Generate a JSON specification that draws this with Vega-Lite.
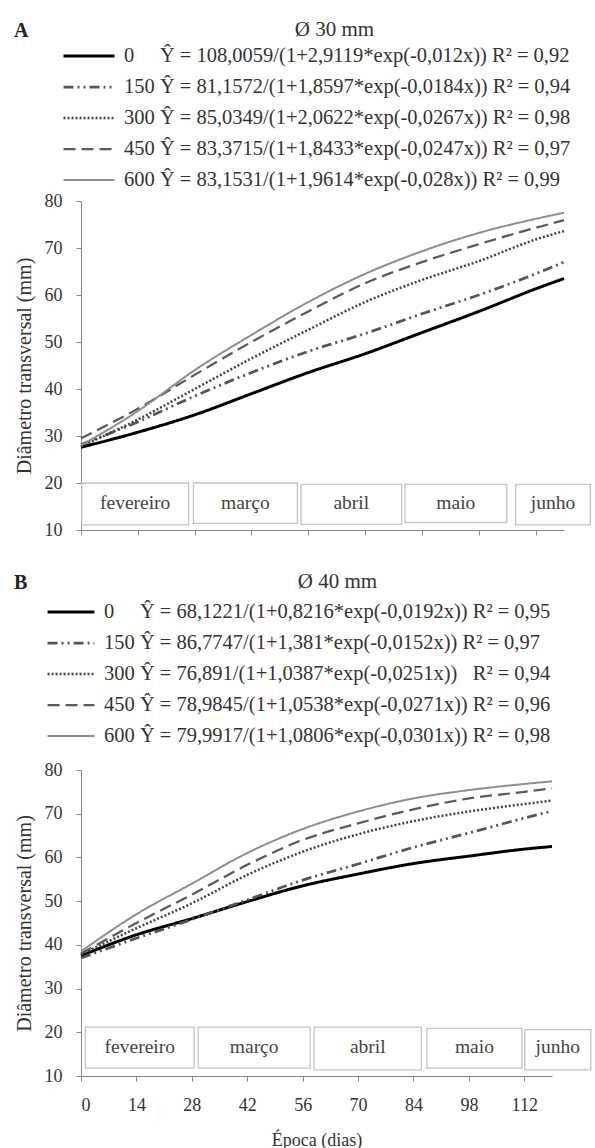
{
  "$schema": "https://vega.github.io/schema/vega-lite/v6.json",
  "background": "white",
  "padding": {"left": 14, "top": 19, "right": 0, "bottom": 0},
  "config": {
    "font": "Liberation Serif, serif",
    "view": {"stroke": null},
    "axis": {"domainColor": "#888", "tickColor": "#888", "labelColor": "#333", "titleColor": "#333", "labelFont": "Liberation Serif, serif", "titleFont": "Liberation Serif, serif", "labelFontSize": 18, "titleFontSize": 20, "titleFontWeight": "normal", "grid": false, "tickSize": 5},
    "title": {"font": "Liberation Serif, serif", "fontWeight": "normal", "fontSize": 21, "color": "#333"},
    "legend": {"labelFont": "Liberation Serif, serif", "labelFontSize": 20.5, "labelColor": "#333", "symbolType": "stroke", "clipHeight": 24, "rowPadding": 7, "labelOffset": 8, "labelLimit": 700, "title": null},
    "text": {"font": "Liberation Serif, serif"},
    "concat": {"spacing": 32}
  },
  "resolve": {"scale": {"stroke": "independent", "strokeDash": "independent", "strokeWidth": "independent", "x": "independent", "y": "independent"}, "legend": {"stroke": "independent", "strokeDash": "independent", "strokeWidth": "independent"}},
  "datasets": {
    "A": [
      {"dias": 0, "dose": 0, "diametro": 27.6}, {"dias": 14, "dose": 0, "diametro": 30.8}, {"dias": 28, "dose": 0, "diametro": 34.5}, {"dias": 42, "dose": 0, "diametro": 39.0}, {"dias": 56, "dose": 0, "diametro": 43.5}, {"dias": 70, "dose": 0, "diametro": 47.5}, {"dias": 84, "dose": 0, "diametro": 52.0}, {"dias": 98, "dose": 0, "diametro": 56.5}, {"dias": 112, "dose": 0, "diametro": 61.3}, {"dias": 119, "dose": 0, "diametro": 63.5},
      {"dias": 0, "dose": 150, "diametro": 28.2}, {"dias": 14, "dose": 150, "diametro": 33.0}, {"dias": 28, "dose": 150, "diametro": 38.5}, {"dias": 42, "dose": 150, "diametro": 43.5}, {"dias": 56, "dose": 150, "diametro": 48.0}, {"dias": 70, "dose": 150, "diametro": 51.8}, {"dias": 84, "dose": 150, "diametro": 56.0}, {"dias": 98, "dose": 150, "diametro": 60.0}, {"dias": 112, "dose": 150, "diametro": 64.5}, {"dias": 119, "dose": 150, "diametro": 67.0},
      {"dias": 0, "dose": 300, "diametro": 27.8}, {"dias": 14, "dose": 300, "diametro": 33.5}, {"dias": 28, "dose": 300, "diametro": 40.0}, {"dias": 42, "dose": 300, "diametro": 46.5}, {"dias": 56, "dose": 300, "diametro": 52.6}, {"dias": 70, "dose": 300, "diametro": 58.5}, {"dias": 84, "dose": 300, "diametro": 63.2}, {"dias": 98, "dose": 300, "diametro": 67.2}, {"dias": 112, "dose": 300, "diametro": 71.8}, {"dias": 119, "dose": 300, "diametro": 73.6},
      {"dias": 0, "dose": 450, "diametro": 29.5}, {"dias": 14, "dose": 450, "diametro": 35.8}, {"dias": 28, "dose": 450, "diametro": 43.0}, {"dias": 42, "dose": 450, "diametro": 50.0}, {"dias": 56, "dose": 450, "diametro": 56.5}, {"dias": 70, "dose": 450, "diametro": 62.5}, {"dias": 84, "dose": 450, "diametro": 67.0}, {"dias": 98, "dose": 450, "diametro": 70.8}, {"dias": 112, "dose": 450, "diametro": 74.3}, {"dias": 119, "dose": 450, "diametro": 75.9},
      {"dias": 0, "dose": 600, "diametro": 28.0}, {"dias": 14, "dose": 600, "diametro": 35.3}, {"dias": 28, "dose": 600, "diametro": 44.0}, {"dias": 42, "dose": 600, "diametro": 51.5}, {"dias": 56, "dose": 600, "diametro": 58.5}, {"dias": 70, "dose": 600, "diametro": 64.5}, {"dias": 84, "dose": 600, "diametro": 69.3}, {"dias": 98, "dose": 600, "diametro": 73.2}, {"dias": 112, "dose": 600, "diametro": 76.2}, {"dias": 119, "dose": 600, "diametro": 77.5}
    ],
    "B": [
      {"dias": 0, "dose": 0, "diametro": 37.5}, {"dias": 14, "dose": 0, "diametro": 42.3}, {"dias": 28, "dose": 0, "diametro": 46.0}, {"dias": 42, "dose": 0, "diametro": 49.9}, {"dias": 56, "dose": 0, "diametro": 53.5}, {"dias": 70, "dose": 0, "diametro": 56.2}, {"dias": 84, "dose": 0, "diametro": 58.6}, {"dias": 98, "dose": 0, "diametro": 60.3}, {"dias": 112, "dose": 0, "diametro": 61.9}, {"dias": 119, "dose": 0, "diametro": 62.5},
      {"dias": 0, "dose": 150, "diametro": 37.0}, {"dias": 14, "dose": 150, "diametro": 41.5}, {"dias": 28, "dose": 150, "diametro": 45.8}, {"dias": 42, "dose": 150, "diametro": 50.3}, {"dias": 56, "dose": 150, "diametro": 54.8}, {"dias": 70, "dose": 150, "diametro": 58.5}, {"dias": 84, "dose": 150, "diametro": 62.3}, {"dias": 98, "dose": 150, "diametro": 65.6}, {"dias": 112, "dose": 150, "diametro": 69.0}, {"dias": 119, "dose": 150, "diametro": 70.6},
      {"dias": 0, "dose": 300, "diametro": 37.8}, {"dias": 14, "dose": 300, "diametro": 43.8}, {"dias": 28, "dose": 300, "diametro": 49.5}, {"dias": 42, "dose": 300, "diametro": 56.0}, {"dias": 56, "dose": 300, "diametro": 61.3}, {"dias": 70, "dose": 300, "diametro": 65.3}, {"dias": 84, "dose": 300, "diametro": 68.3}, {"dias": 98, "dose": 300, "diametro": 70.5}, {"dias": 112, "dose": 300, "diametro": 72.2}, {"dias": 119, "dose": 300, "diametro": 73.0},
      {"dias": 0, "dose": 450, "diametro": 38.0}, {"dias": 14, "dose": 450, "diametro": 45.0}, {"dias": 28, "dose": 450, "diametro": 51.5}, {"dias": 42, "dose": 450, "diametro": 58.3}, {"dias": 56, "dose": 450, "diametro": 64.0}, {"dias": 70, "dose": 450, "diametro": 67.8}, {"dias": 84, "dose": 450, "diametro": 71.0}, {"dias": 98, "dose": 450, "diametro": 73.5}, {"dias": 112, "dose": 450, "diametro": 75.0}, {"dias": 119, "dose": 450, "diametro": 75.8},
      {"dias": 0, "dose": 600, "diametro": 38.5}, {"dias": 14, "dose": 600, "diametro": 47.0}, {"dias": 28, "dose": 600, "diametro": 54.0}, {"dias": 42, "dose": 600, "diametro": 61.0}, {"dias": 56, "dose": 600, "diametro": 66.5}, {"dias": 70, "dose": 600, "diametro": 70.5}, {"dias": 84, "dose": 600, "diametro": 73.5}, {"dias": 98, "dose": 600, "diametro": 75.4}, {"dias": 112, "dose": 600, "diametro": 76.8}, {"dias": 119, "dose": 600, "diametro": 77.4}
    ],
    "mesesA": [
      {"mes": "fevereiro", "inicio": 0.2, "fim": 26.5, "base": 11.1, "topo": 20.0},
      {"mes": "março", "inicio": 27.7, "fim": 53.3, "base": 11.4, "topo": 20.0},
      {"mes": "abril", "inicio": 54.2, "fim": 79.0, "base": 11.2, "topo": 19.7},
      {"mes": "maio", "inicio": 79.8, "fim": 104.9, "base": 11.6, "topo": 19.7},
      {"mes": "junho", "inicio": 107.1, "fim": 125.5, "base": 11.1, "topo": 19.7}
    ],
    "mesesB": [
      {"mes": "fevereiro", "inicio": 1.1, "fim": 28.6, "base": 11.8, "topo": 21.2},
      {"mes": "março", "inicio": 29.6, "fim": 57.9, "base": 11.8, "topo": 21.2},
      {"mes": "abril", "inicio": 58.9, "fim": 86.0, "base": 11.4, "topo": 21.2},
      {"mes": "maio", "inicio": 87.4, "fim": 111.4, "base": 11.8, "topo": 20.9},
      {"mes": "junho", "inicio": 112.1, "fim": 128.8, "base": 11.4, "topo": 20.6}
    ]
  },
  "vconcat": [
    {
      "title": {"text": "A", "anchor": "start", "fontWeight": "bold", "fontSize": 20, "color": "#222", "dy": 26},
      "resolve": {"scale": {"stroke": "independent", "strokeDash": "independent", "strokeWidth": "independent"}, "legend": {"stroke": "independent", "strokeDash": "independent", "strokeWidth": "independent"}},
      "vconcat": [
        {
          "width": 483, "height": 329,
          "title": {"text": "Ø 30 mm", "anchor": "middle", "dx": 12, "offset": 4},
          "layer": [
            {
              "data": {"name": "A"},
              "mark": {"type": "line", "interpolate": "monotone"},
              "encoding": {
                "x": {"field": "dias", "type": "quantitative", "scale": {"domain": [0, 119], "nice": false, "zero": false}, "axis": {"title": null, "values": [0,7,14,21,28,35,42,49,56,63,70,77,84,91,98,105,112,119], "labels": false}},
                "y": {"field": "diametro", "type": "quantitative", "scale": {"domain": [10, 80], "nice": false, "zero": false}, "axis": {"title": "Diâmetro transversal (mm)", "values": [10,20,30,40,50,60,70,80], "titlePadding": 10, "labelPadding": 14}},
                "stroke": {"field": "dose", "type": "nominal", "scale": {"domain": [0,150,300,450,600], "range": ["#000000","#555555","#444444","#5a5a5a","#8e8e8e"]},
                  "legend": {"orient": "none", "legendX": -19, "legendY": -157, "symbolSize": 2600,
                    "labelExpr": "datum.label == '0' ? '0\u2007\u2007 Ŷ = 108,0059/(1+2,9119*exp(-0,012x)) R² = 0,92' : datum.label == '150' ? '150 Ŷ = 81,1572/(1+1,8597*exp(-0,0184x)) R² = 0,94' : datum.label == '300' ? '300 Ŷ = 85,0349/(1+2,0622*exp(-0,0267x)) R² = 0,98' : datum.label == '450' ? '450 Ŷ = 83,3715/(1+1,8433*exp(-0,0247x)) R² = 0,97' : '600 Ŷ = 83,1531/(1+1,9614*exp(-0,028x)) R² = 0,99'"}},
                "strokeDash": {"field": "dose", "type": "nominal", "scale": {"domain": [0,150,300,450,600], "range": [[1,0],[10,4,2,4,2,4],[2,2],[12,6],[1,0]]}},
                "strokeWidth": {"field": "dose", "type": "nominal", "scale": {"domain": [0,150,300,450,600], "range": [3,2,2.5,2.2,1.5]}}
              }
            },
            {
              "data": {"name": "mesesA"},
              "mark": {"type": "rect", "fill": "white", "stroke": "#c4c4c4", "strokeWidth": 1.3},
              "encoding": {
                "x": {"field": "inicio", "type": "quantitative"},
                "x2": {"field": "fim"},
                "y": {"field": "base", "type": "quantitative"},
                "y2": {"field": "topo"}
              }
            },
            {
              "data": {"name": "mesesA"},
              "transform": [{"calculate": "(datum.inicio + datum.fim) / 2", "as": "meio"}],
              "mark": {"type": "text", "fontSize": 19.5, "color": "#444", "baseline": "middle", "font": "Liberation Serif, serif"},
              "encoding": {
                "x": {"field": "meio", "type": "quantitative"},
                "y": {"datum": 15.8},
                "text": {"field": "mes"}
              }
            }
          ]
        }
      ]
    },
    {
      "title": {"text": "B", "anchor": "start", "fontWeight": "bold", "fontSize": 20, "color": "#222", "dy": 26},
      "resolve": {"scale": {"stroke": "independent", "strokeDash": "independent", "strokeWidth": "independent"}, "legend": {"stroke": "independent", "strokeDash": "independent", "strokeWidth": "independent"}},
      "vconcat": [
        {
          "width": 471, "height": 306,
          "title": {"text": "Ø 40 mm", "anchor": "middle", "dx": 21, "offset": 8},
          "layer": [
            {
              "data": {"name": "B"},
              "mark": {"type": "line", "interpolate": "monotone"},
              "encoding": {
                "x": {"field": "dias", "type": "quantitative", "scale": {"domain": [0, 119], "nice": false, "zero": false}, "axis": {"title": "Época (dias)", "values": [0,7,14,21,28,35,42,49,56,63,70,77,84,91,98,105,112,119], "labelExpr": "datum.value % 14 === 0 ? datum.value : ''", "labelPadding": 15, "titlePadding": 17, "titleFontSize": 18}},
                "y": {"field": "diametro", "type": "quantitative", "scale": {"domain": [10, 80], "nice": false, "zero": false}, "axis": {"title": "Diâmetro transversal (mm)", "values": [10,20,30,40,50,60,70,80], "titlePadding": 10, "labelPadding": 14}},
                "stroke": {"field": "dose", "type": "nominal", "scale": {"domain": [0,150,300,450,600], "range": ["#000000","#555555","#444444","#5a5a5a","#8e8e8e"]},
                  "legend": {"orient": "none", "legendX": -35, "legendY": -170, "symbolSize": 2200,
                    "labelExpr": "datum.label == '0' ? '0\u2007\u2007 Ŷ = 68,1221/(1+0,8216*exp(-0,0192x)) R² = 0,95' : datum.label == '150' ? '150 Ŷ = 86,7747/(1+1,381*exp(-0,0152x)) R² = 0,97' : datum.label == '300' ? '300 Ŷ = 76,891/(1+1,0387*exp(-0,0251x))\u2002 R² = 0,94' : datum.label == '450' ? '450 Ŷ = 78,9845/(1+1,0538*exp(-0,0271x)) R² = 0,96' : '600 Ŷ = 79,9917/(1+1,0806*exp(-0,0301x)) R² = 0,98'"}},
                "strokeDash": {"field": "dose", "type": "nominal", "scale": {"domain": [0,150,300,450,600], "range": [[1,0],[10,4,2,4,2,4],[2,2],[12,6],[1,0]]}},
                "strokeWidth": {"field": "dose", "type": "nominal", "scale": {"domain": [0,150,300,450,600], "range": [3,2,2.5,2.2,1.5]}}
              }
            },
            {
              "data": {"name": "mesesB"},
              "mark": {"type": "rect", "fill": "white", "stroke": "#c4c4c4", "strokeWidth": 1.3},
              "encoding": {
                "x": {"field": "inicio", "type": "quantitative"},
                "x2": {"field": "fim"},
                "y": {"field": "base", "type": "quantitative"},
                "y2": {"field": "topo"}
              }
            },
            {
              "data": {"name": "mesesB"},
              "transform": [{"calculate": "(datum.inicio + datum.fim) / 2", "as": "meio"}],
              "mark": {"type": "text", "fontSize": 19.5, "color": "#444", "baseline": "middle", "font": "Liberation Serif, serif"},
              "encoding": {
                "x": {"field": "meio", "type": "quantitative"},
                "y": {"datum": 16.6},
                "text": {"field": "mes"}
              }
            }
          ]
        }
      ]
    }
  ]
}
